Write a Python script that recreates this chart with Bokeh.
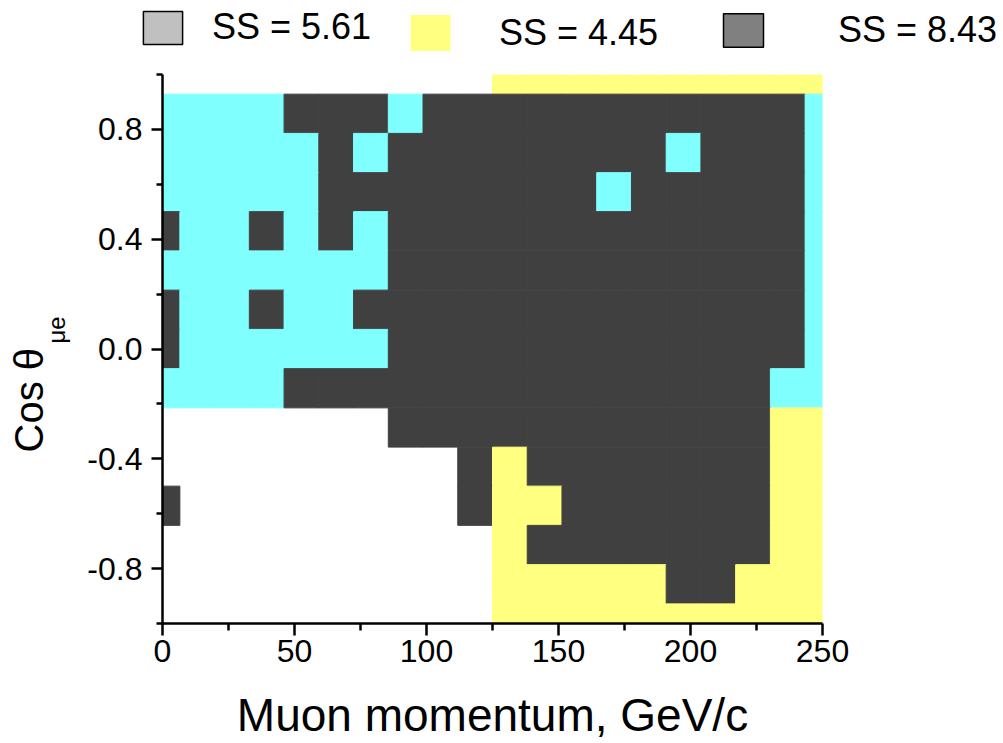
import math
from bokeh.plotting import figure
from bokeh.layouts import column, row
from bokeh.models import (Range1d, FixedTicker, PrintfTickFormatter, Legend, LegendItem,
                          Label, ColumnDataSource)
from bokeh.embed import file_html
from bokeh.resources import INLINE

# ---- data -------------------------------------------------------------
# bin centres
momentum = [0.0, 13.16, 26.32, 39.47, 52.63, 65.79, 78.95, 92.11, 105.26, 118.42,
            131.58, 144.74, 157.89, 171.05, 184.21, 197.37, 210.53, 223.68, 236.84, 250.0]
cos_theta = [1.0, 0.857, 0.714, 0.571, 0.429, 0.286, 0.143, 0.0,
             -0.143, -0.286, -0.429, -0.571, -0.714, -0.857, -1.0]
bin_width = 250.0 / 19
bin_height = 2.0 / 14

# region of each cell, rows from top (cos = 1) to bottom (cos = -1)
# C = SS 5.61 region, Y = SS 4.45 region, D = SS 8.43 region, W = none
region_rows = [
    "WWWWWWWWWWYYYYYYYYYY",
    "CCCCDDDCDDDDDDDDDDDC",
    "CCCCCDCDDDDDDDDCDDDC",
    "CCCCCDDDDDDDDCDDDDDC",
    "DCCDCDCDDDDDDDDDDDDC",
    "CCCCCCCDDDDDDDDDDDDC",
    "DCCDCCDDDDDDDDDDDDDC",
    "DCCCCCCDDDDDDDDDDDDC",
    "CCCCDDDDDDDDDDDDDDCC",
    "WWWWWWWDDDDDDDDDDDYY",
    "WWWWWWWWWDYDDDDDDDYY",
    "DWWWWWWWWDYYDDDDDDYY",
    "WWWWWWWWWWYDDDDDDDYY",
    "WWWWWWWWWWYYYYYDDYYY",
    "WWWWWWWWWWYYYYYYYYYY",
]
region_colors = {"C": "#80FFFF", "Y": "#FFFF80", "D": "#404040"}

legend_labels = ["SS = 5.61", "SS = 4.45", "SS = 8.43"]
legend_colors = ["#C0C0C0", "#FFFF80", "#808080"]

x_ticks = [0, 50, 100, 150, 200, 250]
x_minor = [25, 75, 125, 175, 225]
y_ticks = [-0.8, -0.4, 0.0, 0.4, 0.8]
y_minor = [-1.0, -0.6, -0.2, 0.2, 0.6, 1.0]

# ---- build cell table -------------------------------------------------
xs, ys, cs = [], [], []
for row_codes, yc in zip(region_rows, cos_theta):
    for code, xc in zip(row_codes, momentum):
        if code in region_colors:
            xs.append(xc)
            ys.append(yc)
            cs.append(region_colors[code])
src = ColumnDataSource(dict(x=xs, y=ys, color=cs))

FONT = "Liberation Sans"
W, H = 1003, 743
TOP_H = 60          # legend strip
LEFT_W = 80         # y-title strip

# ---- main plot --------------------------------------------------------
p = figure(width=W - LEFT_W, height=H - TOP_H, output_backend="svg", toolbar_location=None,
           x_range=Range1d(0, 250), y_range=Range1d(-1, 1),
           min_border_left=162 - LEFT_W, min_border_right=181, min_border_top=74 - TOP_H,
           min_border_bottom=119)
p.outline_line_color = None
p.grid.visible = False
p.background_fill_color = "white"
p.border_fill_color = "white"

p.rect(x="x", y="y", width=bin_width, height=bin_height, source=src,
       fill_color="color", line_color="color", line_width=1)

for ax in (p.xaxis[0], p.yaxis[0]):
    ax.axis_line_width = 2.5
    ax.major_tick_line_width = 2.5
    ax.minor_tick_line_width = 2.5
    ax.major_tick_in = 0
    ax.minor_tick_in = 0
    ax.major_label_text_font = FONT
    ax.major_label_text_font_size = "32px"
    ax.major_label_text_color = "black"
    ax.axis_label_text_font = FONT
    ax.axis_label_text_font_style = "normal"
    ax.axis_label_text_color = "black"

p.xaxis.ticker = FixedTicker(ticks=x_ticks, minor_ticks=x_minor)
p.xaxis.formatter = PrintfTickFormatter(format="%d")
p.xaxis.major_tick_out = 12
p.xaxis.minor_tick_out = 7
p.xaxis.major_label_standoff = 4
p.xaxis.axis_label = "Muon momentum, GeV/c"
p.xaxis.axis_label_text_font_size = "46px"
p.xaxis.axis_label_standoff = 24

p.yaxis.ticker = FixedTicker(ticks=y_ticks, minor_ticks=y_minor)
p.yaxis.formatter = PrintfTickFormatter(format="%.1f")
p.yaxis.major_tick_out = 11
p.yaxis.minor_tick_out = 6
p.yaxis.major_label_standoff = 9

# ---- y-title strip ----------------------------------------------------
yl = figure(width=LEFT_W, height=H - TOP_H, output_backend="svg", toolbar_location=None,
            x_axis_location=None, y_axis_location=None, min_border=0,
            x_range=Range1d(0, 1), y_range=Range1d(0, 1))
yl.outline_line_color = None
yl.grid.visible = False
yl.add_layout(Label(x=28, y=171, x_units="screen", y_units="screen", angle=math.pi / 2,
                    text="Cos θ", text_font=FONT, text_font_size="40px",
                    text_align="left", text_baseline="alphabetic", text_color="black"))
yl.add_layout(Label(x=56, y=280, x_units="screen", y_units="screen", angle=math.pi / 2,
                    text="μe", text_font=FONT, text_font_size="24px",
                    text_align="left", text_baseline="alphabetic", text_color="black"))

# ---- legend strip -----------------------------------------------------
lg_fig = figure(width=W, height=TOP_H, output_backend="svg", toolbar_location=None,
                x_axis_location=None, y_axis_location=None, min_border=0,
                x_range=Range1d(0, 1), y_range=Range1d(0, 1))
lg_fig.outline_line_color = None
lg_fig.grid.visible = False

NAN = float("nan")
leg_pos = [(138, 12), (405, 5), (718, 9)]
leg_standoff = [25, 44, 70]
leg_gw = [49, 50, 50]
leg_gh = [41, 45, 42]
leg_line = ["black", None, "black"]
for lab, col, pos, so, gw, gh, lc in zip(legend_labels, legend_colors, leg_pos, leg_standoff,
                                         leg_gw, leg_gh, leg_line):
    r = lg_fig.quad(left=[NAN], right=[NAN], top=[NAN], bottom=[NAN], fill_color=col,
                    line_color=lc, line_width=1.5)
    lg = Legend(items=[LegendItem(label=lab, renderers=[r])], location=pos,
                orientation="horizontal", glyph_width=gw, glyph_height=gh,
                label_standoff=so, label_text_font=FONT, label_text_font_size="36px",
                label_text_color="black", label_height=gh,
                padding=0, margin=0, spacing=0, border_line_color=None,
                background_fill_alpha=0)
    lg_fig.add_layout(lg, "center")

layout = column(lg_fig, row(yl, p, spacing=0), spacing=0)
open("out.html", "w").write(file_html(layout, INLINE))
